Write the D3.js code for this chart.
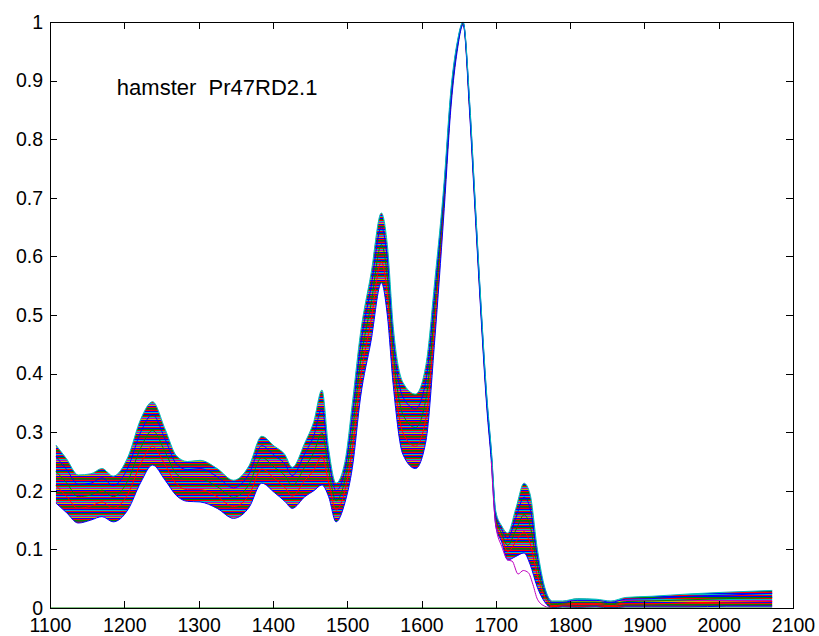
<!DOCTYPE html>
<html>
<head>
<meta charset="utf-8">
<script src="https://cdnjs.cloudflare.com/ajax/libs/d3/7.8.5/d3.min.js"></script>
<style>
  body { margin: 0; background: #fff; }
  text { font-family: "Liberation Sans", Arial, sans-serif; }
  .axis path, .axis line { stroke: #000; shape-rendering: crispEdges; }
  .axis text { font-size: 19.5px; fill: #000; }
  .spectrum { fill: none; stroke-width: 1; }
</style>
</head>
<body>
<div id="chart"></div>
<script>
// wavenumber grid the spectra were read at
var wavenumbers = [1108, 1122, 1138, 1155, 1170, 1185, 1205, 1222, 1238, 1255,
  1270, 1285, 1302, 1325, 1347, 1368, 1385, 1402, 1416, 1426,
  1443, 1455, 1466, 1475, 1485, 1497, 1507, 1518, 1532, 1546,
  1554, 1562, 1575, 1592, 1606, 1618, 1630, 1640, 1648, 1656,
  1665, 1672, 1680, 1688, 1694, 1700, 1708, 1716, 1727, 1738,
  1746, 1756, 1766, 1776, 1790, 1810, 1835, 1855, 1875, 1910,
  1960, 2010, 2072];

// top and bottom of the bundle of spectra
var upperEdge = [.278, .255, .227, .229, .238, .225, .258, .322, .352, .305,
  .260, .250, .252, .238, .218, .243, .293, .276, .262, .240,
  .282, .318, .372, .272, .213, .250, .350, .470, .570, .674,
  .620, .480, .385, .365, .415, .560, .720, .890, .965, 1.0,
  .860, .700, .520, .360, .270, .165, .140, .128, .170, .213,
  .195, .100, .035, .012, .012, .016, .015, .012, .018, .020,
  .024, .027, .030];
var lowerEdge = [.179, .163, .145, .150, .156, .147, .168, .214, .244, .218,
  .192, .182, .181, .170, .153, .172, .213, .197, .182, .170,
  .190, .200, .210, .190, .147, .180, .240, .360, .455, .555,
  .500, .380, .262, .238, .285, .460, .670, .860, .950, .995,
  .840, .680, .500, .340, .250, .140, .112, .082, .088, .094,
  .075, .035, .010, .000, .002, .001, .002, .000, .002, .002,
  .002, .003, .003];

// a few spectra from inside the bundle
var spectrumRed = [.209, .191, .170, .174, .181, .170, .195, .246, .276, .244,
  .212, .202, .202, .190, .173, .193, .237, .221, .206, .191,
  .218, .235, .259, .215, .167, .201, .273, .393, .490, .591,
  .536, .410, .299, .276, .324, .490, .685, .869, .955, .997,
  .846, .686, .506, .346, .256, .148, .120, .096, .113, .130,
  .111, .055, .018, .004, .005, .006, .006, .004, .007, .007,
  .009, .010, .011];
var spectrumGreen = [.233, .214, .190, .193, .201, .190, .218, .273, .303, .266,
  .229, .219, .220, .207, .189, .211, .257, .240, .226, .209,
  .241, .265, .299, .235, .183, .219, .301, .421, .518, .620,
  .566, .435, .330, .308, .357, .515, .698, .877, .958, .998,
  .851, .691, .511, .351, .261, .154, .127, .107, .133, .159,
  .141, .071, .024, .007, .008, .010, .010, .007, .011, .012,
  .014, .016, .018];
var spectrumBlue = [.258, .237, .211, .213, .222, .209, .240, .300, .330, .288,
  .246, .236, .238, .224, .205, .229, .277, .260, .246, .226,
  .264, .294, .340, .256, .200, .236, .328, .448, .547, .650,
  .596, .460, .360, .340, .389, .540, .710, .884, .962, .999,
  .856, .696, .516, .356, .266, .160, .134, .119, .154, .189,
  .171, .087, .030, .010, .010, .013, .013, .010, .015, .016,
  .020, .022, .025];

// the one low spectrum that drops out of the bundle near 1730
var outlierWavenumbers = [1694, 1700, 1708, 1716, 1722, 1730, 1737, 1744, 1750, 1756, 1766, 1776];
var outlierValues = [.250, .140, .105, .082, .080, .058, .064, .060, .040, .015, .003, .000];

// flat zero trace along the bottom
var zeroWavenumbers = [1100, 2072];
var zeroValues = [0, 0];

var xTicks = [1100, 1200, 1300, 1400, 1500, 1600, 1700, 1800, 1900, 2000, 2100];
var yTicks = [0, 0.1, 0.2, 0.3, 0.4, 0.5, 0.6, 0.7, 0.8, 0.9, 1];
var label = 'hamster\u00a0\u00a0Pr47RD2.1';

var matlabColors = ['#0000ff', '#008000', '#ff0000', '#00bfbf', '#bf00bf', '#bfbf00', '#404040'];
// order of the thin coloured rows that fill the crowded bundle
var bundleRows = [0, 1, 2, 3, 4, 5, 0, 2, 1, 6, 2, 0, 3, 2];

var W = 819, H = 636;
var margin = {left: 50, top: 22, right: 26, bottom: 28};
var w = W - margin.left - margin.right,
  h = H - margin.top - margin.bottom;

var svg = d3.select('#chart')
  .append('svg')
  .attr('width', W)
  .attr('height', H);

var defs = svg.append('defs');
var stripes = defs.append('pattern')
  .attr('id', 'bundle')
  .attr('patternUnits', 'userSpaceOnUse')
  .attr('width', 8)
  .attr('height', bundleRows.length);
stripes.selectAll('rect')
  .data(bundleRows)
  .enter().append('rect')
  .attr('x', 0)
  .attr('y', function(d, i) { return i; })
  .attr('width', 8)
  .attr('height', 1)
  .attr('fill', function(d) { return matlabColors[d]; });

var g = svg.append('g')
  .attr('transform', 'translate(' + margin.left + ',' + margin.top + ')');

var x = d3.scaleLinear().domain([1100, 2100]).range([0, w]);
var y = d3.scaleLinear().domain([0, 1]).range([h, 0]);

////////////////////////
// Spectra
////////////////////////
function pairs(xs, ys) {
  return xs.map(function(d, i) { return [d, ys[i]]; });
}

var line = d3.line()
  .x(function(d) { return x(d[0]); })
  .y(function(d) { return y(d[1]); })
  .curve(d3.curveMonotoneX);

var band = d3.area()
  .x(function(d) { return x(d.wn); })
  .y0(function(d) { return y(d.lo); })
  .y1(function(d) { return y(d.hi); })
  .curve(d3.curveMonotoneX);

var bandData = wavenumbers.map(function(d, i) {
  return {wn: d, lo: lowerEdge[i], hi: upperEdge[i]};
});

g.append('path')
  .datum(bandData)
  .attr('d', band)
  .attr('fill', 'url(#bundle)');

var traces = [
  {values: spectrumRed, color: matlabColors[2]},
  {values: spectrumGreen, color: matlabColors[1]},
  {values: spectrumBlue, color: matlabColors[0]},
  {values: lowerEdge, color: matlabColors[0]},
  {values: upperEdge, color: matlabColors[3]}
];

g.selectAll('.spectrum')
  .data(traces)
  .enter().append('path')
  .attr('class', 'spectrum')
  .attr('d', function(d) { return line(pairs(wavenumbers, d.values)); })
  .attr('stroke', function(d) { return d.color; });

g.append('path')
  .attr('class', 'spectrum')
  .attr('d', line(pairs(outlierWavenumbers, outlierValues)))
  .attr('stroke', matlabColors[4]);

g.append('path')
  .attr('class', 'spectrum')
  .attr('d', line(pairs(zeroWavenumbers, zeroValues)))
  .attr('stroke', matlabColors[1])
  .attr('stroke-width', 1.5);

////////////////////////
// Axes, box, ticks inside
////////////////////////
g.append('g')
  .attr('class', 'axis')
  .attr('transform', 'translate(0,' + h + ')')
  .call(d3.axisBottom(x).tickValues(xTicks).tickFormat(function(d) { return d; })
    .tickSizeInner(-7).tickSizeOuter(0).tickPadding(10));

g.append('g')
  .attr('class', 'axis')
  .call(d3.axisLeft(y).tickValues(yTicks).tickFormat(function(d) { return d; })
    .tickSizeInner(-7).tickSizeOuter(0).tickPadding(7));

g.append('g')
  .attr('class', 'axis')
  .call(d3.axisTop(x).tickValues(xTicks).tickFormat('')
    .tickSizeInner(-7).tickSizeOuter(0));

g.append('g')
  .attr('class', 'axis')
  .attr('transform', 'translate(' + w + ',0)')
  .call(d3.axisRight(y).tickValues(yTicks).tickFormat('')
    .tickSizeInner(-7).tickSizeOuter(0));

g.selectAll('.axis text')
  .style('font-family', '"Liberation Sans", Arial, sans-serif');

g.append('text')
  .attr('x', x(1190))
  .attr('y', y(0.875))
  .style('font-size', '22px')
  .text(label);
</script>
</body>
</html>
